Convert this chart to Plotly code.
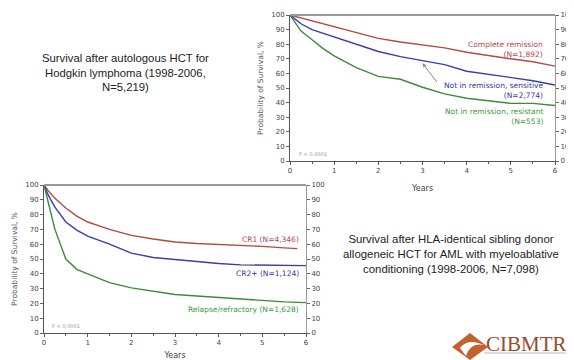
import plotly.graph_objects as go

# ---- Data: Hodgkin lymphoma (autologous HCT) ----
years_hl = [0, 0.25, 0.5, 0.75, 1, 1.5, 2, 2.5, 3, 3.5, 4, 4.5, 5, 5.5, 6]
cr_hl = [100, 98, 96, 94, 92, 88, 84, 81.5, 79.5, 77.5, 74.5, 72, 70, 68, 65]
sens_hl = [100, 94, 90, 87.5, 85, 80, 75, 71.5, 68.5, 66, 61.5, 59.5, 57, 55, 52]
res_hl = [100, 89, 83, 77, 72, 64, 58, 56, 50.5, 46, 43, 41, 39.5, 39.5, 38]
labels_hl = ["Complete remission<br>(N=1,892)",
             "Not in remission, sensitive<br>(N=2,774)",
             "Not in remission, resistant<br>(N=553)"]

# ---- Data: AML (HLA-identical sibling allogeneic HCT) ----
years_cr1 = [0, 0.1, 0.25, 0.5, 0.75, 1, 1.5, 2, 2.5, 3, 3.5, 4, 4.5, 5, 5.5, 5.8]
cr1_aml = [100, 96, 91, 84.5, 79, 75, 70, 66, 63.5, 61.5, 60.5, 60, 59.5, 58.5, 57.5, 57]
years_aml = [0, 0.1, 0.25, 0.5, 0.75, 1, 1.5, 2, 2.5, 3, 3.5, 4, 4.5, 5, 5.5, 6]
cr2_aml = [100, 93, 85, 75, 69.5, 65.5, 60, 54, 51, 49.5, 48.5, 47, 46, 46, 46, 45.5]
rel_aml = [100, 88, 70, 50, 43, 40, 34, 30.5, 28, 26, 25, 24, 22.5, 21.5, 21, 20.5]
labels_aml = ["CR1 (N=4,346)", "CR2+ (N=1,124)", "Relapse/refractory (N=1,628)"]

y_ticks = list(range(0, 101, 10))
x_ticks = [0, 1, 2, 3, 4, 5, 6]

RED, BLUE, GREEN = "#b24a44", "#3b3bb0", "#3a8c3a"
RED_T, BLUE_T, GREEN_T = "#b04848", "#3636a6", "#3a9a3a"
TICKFONT = dict(family="DejaVu Sans", size=7, color="#444")

# the page body adds an 8px margin; size the figure so it fits the 574x360 window
OX, OY = 8, 8
W, H = 574 - OX, 360 - OY
def px(X):
    return (X - OX) / W
def py(Y):
    return 1 - (Y - OY) / H

fig = go.Figure()

# top chart (x2/y2)
for ys, c in zip([cr_hl, sens_hl, res_hl], [RED, BLUE, GREEN]):
    fig.add_trace(go.Scatter(x=years_hl, y=ys, mode="lines", xaxis="x2", yaxis="y2",
                             line=dict(color=c, width=1.4), showlegend=False, hoverinfo="skip"))
# bottom chart (x/y)
for xs, ys, c in zip([years_cr1, years_aml, years_aml], [cr1_aml, cr2_aml, rel_aml], [RED, BLUE, GREEN]):
    fig.add_trace(go.Scatter(x=xs, y=ys, mode="lines", xaxis="x", yaxis="y",
                             line=dict(color=c, width=1.4), showlegend=False, hoverinfo="skip"))
# invisible helper traces so the right-hand axes are drawn
fig.add_trace(go.Scatter(x=years_aml, y=cr2_aml, mode="lines", xaxis="x", yaxis="y3",
                         opacity=0, showlegend=False, hoverinfo="skip"))
fig.add_trace(go.Scatter(x=years_hl, y=sens_hl, mode="lines", xaxis="x2", yaxis="y4",
                         opacity=0, showlegend=False, hoverinfo="skip"))

def xax(domain, anchor, standoff):
    return dict(domain=domain, anchor=anchor, range=[0, 6], tickvals=x_ticks, automargin=False,
                showgrid=False, zeroline=False, showline=True, linecolor="#555", linewidth=1,
                ticks="outside", ticklen=3, tickcolor="#555", tickfont=TICKFONT,
                minor=dict(dtick=0.5, ticks="outside", ticklen=2, tickcolor="#555"),
                title=dict(text="Years", font=dict(family="DejaVu Sans", size=8, color="#444"),
                           standoff=standoff))

def yax(domain, anchor, side="left", overlaying=None, title=True):
    d = dict(domain=domain, anchor=anchor, range=[0, 100], tickvals=y_ticks, side=side,
             showgrid=False, zeroline=False, showline=True, automargin=False,
             linecolor="#555" if side == "left" else "#999", linewidth=1,
             ticks="outside", ticklen=3, tickcolor="#666", tickfont=TICKFONT)
    if overlaying:
        d["overlaying"] = overlaying
    if title:
        d["title"] = dict(text="Probability of Survival, %",
                          font=dict(family="DejaVu Sans", size=7.5, color="#555"), standoff=6)
    return d

xdom_top = [px(290), px(555)]
ydom_top = [py(161), py(15)]
xdom_bot = [px(44), px(306)]
ydom_bot = [py(333), py(185)]

fig.update_layout(
    width=W, height=H, margin=dict(l=0, r=0, t=0, b=0, autoexpand=False),
    paper_bgcolor="white", plot_bgcolor="white", showlegend=False,
    xaxis=xax(xdom_bot, "y", 8),
    yaxis=yax(ydom_bot, "x"),
    xaxis2=xax(xdom_top, "y2", 10),
    yaxis2=yax(ydom_top, "x2"),
    yaxis3=yax(ydom_bot, "x", side="right", overlaying="y", title=False),
    yaxis4=yax(ydom_top, "x2", side="right", overlaying="y2", title=False),
)

# top gray borders
for xr, yr in [("x domain", "y domain"), ("x2 domain", "y2 domain")]:
    fig.add_shape(type="line", xref=xr, yref=yr, x0=0, x1=1, y0=1, y1=1,
                  line=dict(color="#999", width=2))

ann = []
# top chart labels
for lab, yv, col in zip(labels_hl, [76.5, 48.5, 30.5], [RED_T, BLUE_T, GREEN_T]):
    ann.append(dict(x=5.78, y=yv, xref="x2", yref="y2", text=lab, showarrow=False,
                    xanchor="right", align="right", font=dict(family="DejaVu Sans", size=7.5, color=col)))
ann.append(dict(x=3.0, y=67, xref="x2", yref="y2", ax=3.35, ay=53, axref="x2", ayref="y2",
                text="", showarrow=True, arrowhead=2, arrowsize=0.8, arrowwidth=1, arrowcolor="#888"))
ann.append(dict(x=0.15, y=5, xref="x2", yref="y2", text="P < 0.0001", showarrow=False, xanchor="left",
                font=dict(family="DejaVu Sans", size=5, color="#999")))
# bottom chart labels
for lab, yv, col in zip(labels_aml, [63.5, 40, 16.2], [RED_T, BLUE_T, GREEN_T]):
    ann.append(dict(x=5.88, y=yv, xref="x", yref="y", text=lab, showarrow=False,
                    xanchor="right", font=dict(family="DejaVu Sans", size=7.5, color=col)))
ann.append(dict(x=0.13, y=5, xref="x", yref="y", text="P < 0.0001", showarrow=False, xanchor="left",
                font=dict(family="DejaVu Sans", size=5, color="#999")))

# descriptive text blocks
ann.append(dict(x=px(125), y=py(72), xref="paper", yref="paper", showarrow=False,
                xanchor="center", yanchor="middle",
                text="Survival after autologous HCT for<br>Hodgkin lymphoma (1998-2006,<br>N=5,219)",
                font=dict(family="Liberation Sans", size=11.3, color="#222"), align="center"))
ann.append(dict(x=px(451), y=py(254), xref="paper", yref="paper", showarrow=False,
                xanchor="center", yanchor="middle",
                text="Survival after HLA-identical sibling donor<br>allogeneic HCT for AML with myeloablative<br>conditioning (1998-2006, N=7,098)",
                font=dict(family="Liberation Sans", size=11.4, color="#222"), align="center"))
# logo text
ann.append(dict(x=px(484), y=py(344), xref="paper", yref="paper", showarrow=False,
                text="CIBMTR", xanchor="left", yanchor="middle",
                font=dict(family="Liberation Serif", size=21, color="#9c4a28")))
fig.update_layout(annotations=ann)

# logo diamond
def P(x, y):
    return f"{px(x):.4f},{py(y):.4f}"
fig.add_shape(type="path", xref="paper", yref="paper",
              path=f"M {P(452, 347)} L {P(470, 333)} L {P(488, 347)} L {P(470, 360)} Z",
              fillcolor="#c2622e", line=dict(width=0))
fig.add_shape(type="path", xref="paper", yref="paper",
              path=f"M {P(460, 348)} Q {P(468, 338)} {P(484, 345)} Q {P(470, 342)} {P(466, 356)} Z",
              fillcolor="white", line=dict(width=0))
fig.add_shape(type="line", xref="paper", yref="paper", x0=px(484), x1=px(568),
              y0=py(353), y1=py(353), line=dict(color="#bbb", width=1))

fig.write_html("out.html")
